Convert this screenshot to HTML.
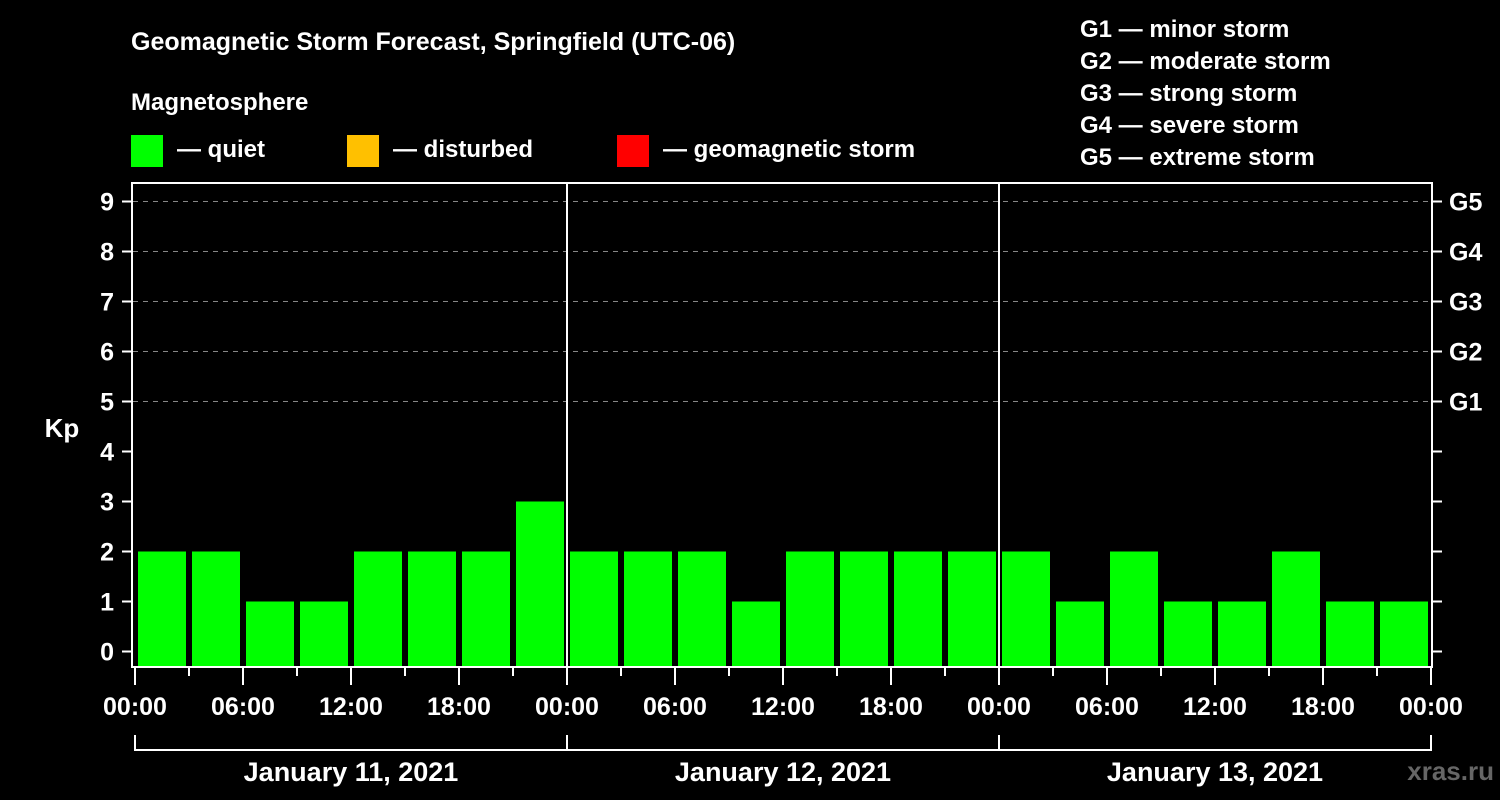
<!DOCTYPE html>
<html><head><meta charset="utf-8"><style>
html,body{margin:0;padding:0;background:#000;}
svg{display:block;font-family:"Liberation Sans",Arial,sans-serif;font-weight:bold;}
</style></head><body>
<svg id="chart" width="1500" height="800" viewBox="0 0 1500 800">
<rect width="1500" height="800" fill="#000"/>
<text x="131" y="50" fill="#fff" font-size="25">Geomagnetic Storm Forecast, Springfield (UTC-06)</text>
<text x="131" y="110" fill="#fff" font-size="24">Magnetosphere</text>
<g><rect x="131" y="135" width="32" height="32" fill="#00ff00"/><text x="177" y="157" fill="#fff" font-size="24">— quiet</text></g>
<g><rect x="347" y="135" width="32" height="32" fill="#ffc000"/><text x="393" y="157" fill="#fff" font-size="24">— disturbed</text></g>
<g><rect x="617" y="135" width="32" height="32" fill="#ff0000"/><text x="663" y="157" fill="#fff" font-size="24">— geomagnetic storm</text></g>
<g fill="#fff" font-size="24">
<text x="1080" y="37">G1 — minor storm</text>
<text x="1080" y="69">G2 — moderate storm</text>
<text x="1080" y="101">G3 — strong storm</text>
<text x="1080" y="133">G4 — severe storm</text>
<text x="1080" y="165">G5 — extreme storm</text>
</g>
<text x="62" y="437" fill="#fff" font-size="26" text-anchor="middle">Kp</text>
<g id="grid"></g><g id="bars"></g><g id="axes"></g>
<text x="1494" y="780" fill="#666" font-size="26" text-anchor="end">xras.ru</text>
</svg>
<script>
const kpValues = [2,2,1,1,2,2,2,3, 2,2,2,1,2,2,2,2, 2,1,2,1,1,2,1,1];
const yTicks = [0,1,2,3,4,5,6,7,8,9];
const gLabels = ["G1","G2","G3","G4","G5"];
const gLevels = [5,6,7,8,9];
const dayLabels = ["January 11, 2021","January 12, 2021","January 13, 2021"];
const hourLabels = ["00:00","06:00","12:00","18:00"];

const NS="http://www.w3.org/2000/svg";
const x0=135, dayW=432, slot=dayW/8;
const y=k=>651.5-50*k;
const x=i=>x0+i*slot;
function mk(tag,attrs,parent,txt){const e=document.createElementNS(NS,tag);for(const k in attrs)e.setAttribute(k,attrs[k]);if(txt!=null)e.textContent=txt;parent.appendChild(e);return e;}
const grid=document.getElementById('grid'),bars=document.getElementById('bars'),axes=document.getElementById('axes');
yTicks.forEach(k=>{
  if(k>=5){const l=mk('line',{x1:133,x2:1431,y1:y(k),y2:y(k),stroke:'#888','stroke-width':1,'stroke-dasharray':'5,5'},grid);
  
  }
  const t=mk('line',{x1:122,x2:131,y1:y(k),y2:y(k),stroke:'#fff','stroke-width':2},axes);
  
  
  const r=mk('line',{x1:1433,x2:1442,y1:y(k),y2:y(k),stroke:'#fff','stroke-width':2},axes);
  
  
  const tl=mk('text',{x:114,y:y(k)+9,fill:'#fff','font-size':25,'text-anchor':'end'},axes,String(k));
  
  
});
gLevels.forEach((k,i)=>{
  const t=mk('text',{x:1449,y:y(k)+9,fill:'#fff','font-size':25},axes,gLabels[i]);
  
  
});
kpValues.forEach((v,i)=>{
  const col=v>=5?'#ff0000':(v>=4?'#ffc000':'#00ff00');
  const b=mk('rect',{x:x(i)+3,y:y(v),width:slot-6,height:667-y(v),fill:col},bars);
  
  
});
const fr=mk('rect',{x:132,y:183,width:1300,height:484,fill:'none',stroke:'#fff','stroke-width':2},axes);


for(let d=1;d<dayLabels.length;d++){
  const l=mk('line',{x1:x0+d*dayW,x2:x0+d*dayW,y1:183,y2:667,stroke:'#fff','stroke-width':2},axes);
  
  
}
for(let i=0;i<=kpValues.length;i++){
  const tx=x(i);
  const t=mk('line',{x1:tx,x2:tx,y1:667,y2:i%2==0?685:676,stroke:'#fff','stroke-width':2},axes);
  
  
  if(i%2==0){
    const lab=mk('text',{x:tx,y:715,fill:'#fff','font-size':25,'text-anchor':'middle'},axes,hourLabels[(i/2)%4]);
    
    
  }
}
const br=mk('path',{d:`M${x0} 735 V750 H${x0+dayW*dayLabels.length} V735`,fill:'none',stroke:'#fff','stroke-width':2},axes);


dayLabels.forEach((s,d)=>{
  if(d>0){const l=mk('line',{x1:x0+d*dayW,x2:x0+d*dayW,y1:735,y2:750,stroke:'#fff','stroke-width':2},axes);
  
  }
  const t=mk('text',{x:x0+d*dayW+dayW/2,y:781,fill:'#fff','font-size':27,'text-anchor':'middle'},axes,s);
  
  
});
</script>
</body></html>
